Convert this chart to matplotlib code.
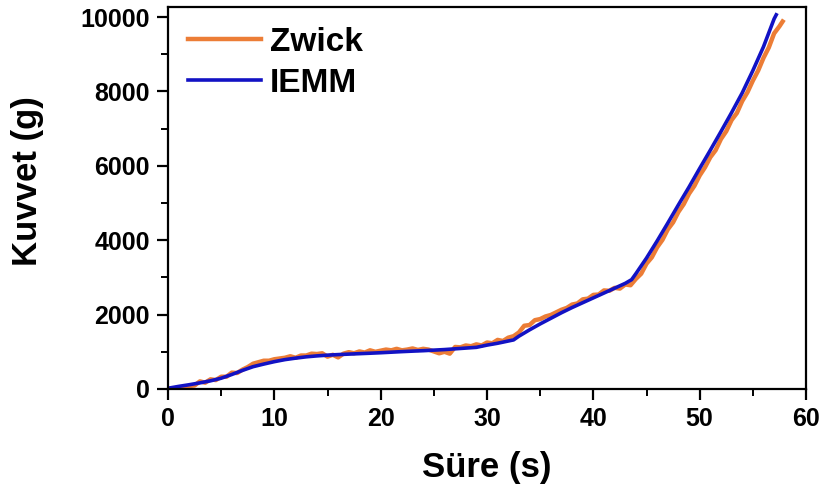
import matplotlib
matplotlib.use("Agg")
import matplotlib.pyplot as plt
from matplotlib.ticker import MultipleLocator

# IEMM (blue) readings
iemm_t = [0, 1, 2, 3, 4, 5, 6, 7, 8, 9, 10, 11, 12, 13, 14, 15, 16, 17, 18, 19,
          20, 21, 22, 23, 24, 25, 26, 27, 28, 29, 30, 31, 32, 32.5, 33, 34, 35,
          36, 37, 38, 39, 40, 41, 42, 43, 43.6, 44, 45, 46, 47, 48, 49, 50, 51,
          52, 53, 54, 55, 56, 57, 57.2]
iemm_f = [20, 70, 115, 165, 220, 290, 390, 500, 600, 670, 735, 790, 830, 865,
          890, 910, 925, 938, 950, 962, 975, 990, 1005, 1018, 1030, 1045, 1060,
          1080, 1100, 1120, 1180, 1230, 1290, 1320, 1420, 1590, 1750, 1900, 2050,
          2190, 2320, 2450, 2580, 2710, 2840, 2940, 3100, 3520, 3980, 4460, 4950,
          5430, 5930, 6420, 6920, 7430, 7960, 8560, 9200, 9950, 10060]

# Zwick (orange) readings, every 0.5 s
zwick_t = [0.0, 0.5, 1.0, 1.5, 2.0, 2.5, 3.0, 3.5, 4.0, 4.5, 5.0, 5.5, 6.0, 6.5,
           7.0, 7.5, 8.0, 8.5, 9.0, 9.5, 10.0, 10.5, 11.0, 11.5, 12.0, 12.5,
           13.0, 13.5, 14.0, 14.5, 15.0, 15.5, 16.0, 16.5, 17.0, 17.5, 18.0,
           18.5, 19.0, 19.5, 20.0, 20.5, 21.0, 21.5, 22.0, 22.5, 23.0, 23.5,
           24.0, 24.5, 25.0, 25.5, 26.0, 26.5, 27.0, 27.5, 28.0, 28.5, 29.0,
           29.5, 30.0, 30.5, 31.0, 31.5, 32.0, 32.5, 33.0, 33.5, 34.0, 34.5,
           35.0, 35.5, 36.0, 36.5, 37.0, 37.5, 38.0, 38.5, 39.0, 39.5, 40.0,
           40.5, 41.0, 41.5, 42.0, 42.5, 43.0, 43.5, 44.0, 44.5, 45.0, 45.5,
           46.0, 46.5, 47.0, 47.5, 48.0, 48.5, 49.0, 49.5, 50.0, 50.5, 51.0,
           51.5, 52.0, 52.5, 53.0, 53.5, 54.0, 54.5, 55.0, 55.5, 56.0, 56.5,
           57.0, 57.5, 57.8]
zwick_f = [0, 10, 40, 55, 80, 95, 205, 170, 260, 240, 330, 330, 440, 430, 520,
           590, 680, 720, 760, 760, 800, 820, 840, 880, 840, 900, 900, 950, 940,
           960, 870, 920, 850, 950, 990, 960, 1010, 980, 1040, 1000, 1030, 1060,
           1040, 1080, 1040, 1060, 1090, 1050, 1080, 1060, 1010, 960, 1000, 950,
           1130, 1120, 1170, 1150, 1200, 1170, 1250, 1230, 1320, 1290, 1380,
           1420, 1520, 1700, 1720, 1850, 1880, 1950, 1990, 2060, 2130, 2180,
           2270, 2300, 2410, 2430, 2530, 2540, 2650, 2640, 2720, 2700, 2810,
           2790, 2960, 3100, 3370, 3540, 3810, 4010, 4290, 4480, 4760, 4970,
           5250, 5460, 5740, 5960, 6230, 6420, 6720, 6930, 7230, 7420, 7740,
           7980, 8290, 8560, 8900, 9180, 9560, 9750, 9880]

xlabel = "Süre (s)"
ylabel = "Kuvvet (g)"

plt.rcParams['font.family'] = ['Liberation Sans', 'DejaVu Sans']
plt.rcParams['font.weight'] = 'bold'

fig = plt.figure(figsize=(8.24, 4.92), dpi=100)
ax = fig.add_axes([168/824, 1-389/492, (806-168)/824, (389-7)/492])

ax.plot(zwick_t, zwick_f, color='#EC7D36', lw=3.2, label='Zwick')
ax.plot(iemm_t, iemm_f, color='#1212C4', lw=2.6, label='IEMM')

ax.set_xlim(0, 60)
ax.set_ylim(0, 10270)
ax.xaxis.set_major_locator(MultipleLocator(10))
ax.xaxis.set_minor_locator(MultipleLocator(5))
ax.yaxis.set_major_locator(MultipleLocator(2000))
ax.yaxis.set_minor_locator(MultipleLocator(1000))
ax.tick_params(which='major', direction='out', length=8, width=1.6, labelsize=18, pad=5)
ax.tick_params(which='minor', direction='out', length=5, width=1.4)
for lab in ax.get_xticklabels() + ax.get_yticklabels():
    lab.set_fontweight('bold')
for s in ax.spines.values():
    s.set_linewidth(1.6)

ax.set_xlabel(xlabel, fontsize=25, fontweight='bold', labelpad=14)
ax.set_ylabel(ylabel, fontsize=25, fontweight='bold')
ax.yaxis.set_label_coords(-0.195, 0.545)

leg = ax.legend(loc='upper left', bbox_to_anchor=(0.0, 1.0), frameon=False,
                prop={'size': 24, 'weight': 'bold'}, handlelength=2.2,
                handletextpad=0.25, labelspacing=0.3, borderaxespad=0.2)

fig.savefig('out.png', dpi=100)
